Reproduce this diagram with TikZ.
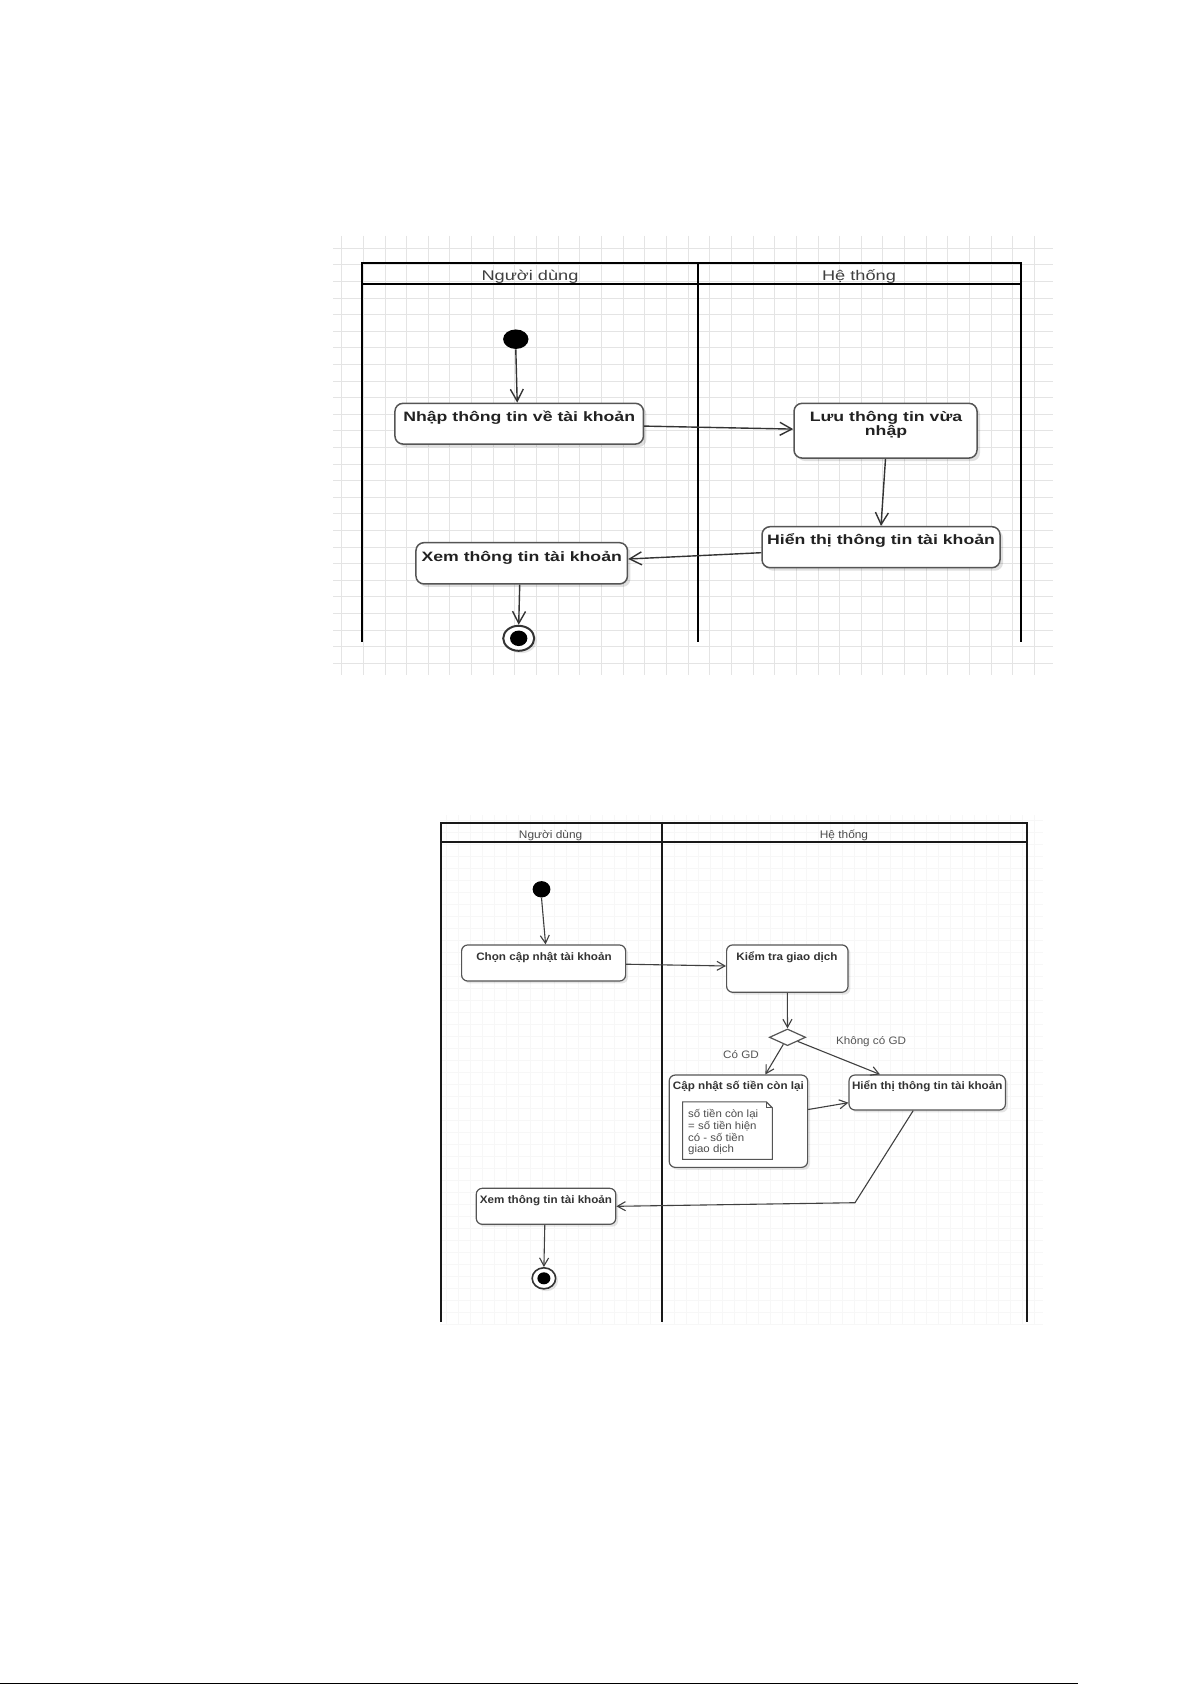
\documentclass[tikz,border=0pt]{standalone}
\usepackage{fontspec}
\setmainfont{Liberation Sans}
\newfontfamily\fA[FakeStretch=1.3]{Liberation Sans}
\newfontfamily\fB[FakeStretch=1.08]{Liberation Sans}
\usetikzlibrary{shapes.geometric,arrows.meta,shadows,calc}
\newdimen\px \px=0.5pt
\definecolor{gridA}{HTML}{E4E4E4}
\definecolor{gridB}{HTML}{F7F7F7}
\definecolor{boxline}{HTML}{555555}
\definecolor{txtA}{HTML}{222222}
\definecolor{txtB}{HTML}{333333}
\definecolor{lbl}{HTML}{555555}
\tikzset{
  actA/.style={draw=boxline, line width=0.75pt, rounded corners=4pt, fill=white,
    drop shadow={fill=black, opacity=0.12, shadow xshift=1.5pt, shadow yshift=-1.5pt}, inner sep=0pt},
  actB/.style={draw=boxline, line width=0.6pt, rounded corners=3pt, fill=white,
    drop shadow={fill=black, opacity=0.10, shadow xshift=1.2pt, shadow yshift=-1.2pt}, inner sep=0pt},
  labA/.style={font=\fA\bfseries\fontsize{6.8}{7}\selectfont, text=txtA, inner sep=0pt, anchor=base},
  labB/.style={font=\fB\bfseries\fontsize{5.4}{6}\selectfont, text=txtB, inner sep=0pt, anchor=base},
  headA/.style={font=\fA\fontsize{7}{8}\selectfont, text=black!75, inner sep=0pt, anchor=base},
  headB/.style={font=\fB\fontsize{5.5}{6}\selectfont, text=black!70, inner sep=0pt, anchor=base},
  guard/.style={font=\fB\fontsize{5.4}{6}\selectfont, text=lbl, inner sep=0pt, anchor=base},
  notetxt/.style={font=\fB\fontsize{5.3}{6}\selectfont, text=black!70, inner sep=0pt, anchor=base west},
  flowA/.style={draw=black!80, line width=0.7pt, -{Straight Barb[length=6pt,width=6.5pt]}},
  flowB/.style={draw=black!75, line width=0.55pt, -{Straight Barb[length=4pt,width=4.5pt]}},
  laneA/.style={draw=black, line width=1pt},
  laneB/.style={draw=black!90, line width=0.85pt},
  startdot/.style={ellipse, fill=black, inner sep=0pt},
  endring/.style={ellipse, draw=black!80, line width=1pt, fill=white, inner sep=0pt,
    drop shadow={fill=black, opacity=0.10, shadow xshift=1.2pt, shadow yshift=-1.2pt}},
}
\begin{document}
\begin{tikzpicture}[x=0.5pt, y=-0.5pt]
\useasboundingbox (0,0) rectangle (1192,1685);
\fill[white] (0,0) rectangle (1192,1685);

% ===== Diagram 1 grid =====
\foreach \i in {0,...,32} \draw[gridA, line width=0.5pt] ({341.7+21.65*\i},236) -- ({341.7+21.65*\i},675);
\foreach \j in {0,...,25} \draw[gridA, line width=0.5pt] (333,{248.3+16.6*\j}) -- (1053,{248.3+16.6*\j});

% ===== Diagram 1 swimlanes =====
\draw[laneA] (362,641.7) -- (362,263.3) -- (1021,263.3) -- (1021,641.7);
\draw[laneA] (362,284.3) -- (1021,284.3);
\draw[laneA] (697.5,263.3) -- (697.5,641.7);
\node[headA] (h1a) at (530,280) {Người dùng};
\node[headA] (h1b) at (859,280) {Hệ thống};

% ===== Diagram 1 nodes =====
\node[startdot, minimum width=25.4\px, minimum height=19.5\px] (s1) at (515.8,339.2) {};
\node[actA, minimum width=248.5\px, minimum height=40.7\px] (b1) at (519.2,423.7) {};
\node[labA] (b1t) at (519.2,421) {Nhập thông tin về tài khoản};
\node[actA, minimum width=183\px, minimum height=54.7\px] (b2) at (885.5,430.7) {};
\node[labA] (b2t) at (886,421) {Lưu thông tin vừa};
\node[labA] (b2u) at (886,435) {nhập};
\node[actA, minimum width=238\px, minimum height=41\px] (b3) at (881,547.2) {};
\node[labA] (b3t) at (881,544) {Hiển thị thông tin tài khoản};
\node[actA, minimum width=211.5\px, minimum height=41.3\px] (b4) at (521.7,563.3) {};
\node[labA] (b4t) at (521.7,561) {Xem thông tin tài khoản};
\node[endring, minimum width=31\px, minimum height=25\px] (e1) at (518.7,638.3) {};
\node[startdot, minimum width=17.3\px, minimum height=15.5\px] (e1i) at (e1) {};

\draw[flowA] (s1.south) -- ([xshift=-1pt]b1.north);
\draw[flowA] ([yshift=-1.2pt]b1.east) -- ([yshift=0.8pt]b2.west);
\draw[flowA] (b2.south) -- (b3.north);
\draw[flowA] ([yshift=-2.75pt]b3.west) -- ([yshift=2.15pt]b4.east);
\draw[flowA] ([xshift=-1pt]b4.south) -- (e1.north);

% ===== Diagram 2 grid =====
\foreach \i in {0,...,49} \draw[gridB, line width=0.4pt] ({446+12*\i},815) -- ({446+12*\i},1324);
\foreach \j in {0,...,42} \draw[gridB, line width=0.4pt] (440,{820+12*\j}) -- (1043,{820+12*\j});

% ===== Diagram 2 swimlanes =====
\draw[laneB] (440.7,1322) -- (440.7,823.3) -- (1027,823.3) -- (1027,1322);
\draw[laneB] (440.7,842.3) -- (1027,842.3);
\draw[laneB] (662,823.3) -- (662,1322);
\node[headB] (h2a) at (550.6,838) {Người dùng};
\node[headB] (h2b) at (844,838) {Hệ thống};

% ===== Diagram 2 nodes =====
\node[startdot, minimum width=17.8\px, minimum height=16.4\px] (s2) at (541.5,889.3) {};
\node[actB, minimum width=164\px, minimum height=36\px] (A) at (543.6,963) {};
\node[labB] (At) at (544,960.5) {Chọn cập nhật tài khoản};
\node[actB, minimum width=121.4\px, minimum height=47.3\px] (B) at (787.3,968.6) {};
\node[labB] (Bt) at (787,960.5) {Kiểm tra giao dịch};
\node[diamond, draw=boxline, line width=0.6pt, fill=white, inner sep=0pt, aspect=2.17,
      minimum width=36.3\px, minimum height=16.7\px] (d) at (787.5,1037.3) {};
\node[actB, minimum width=138.4\px, minimum height=92.3\px] (C) at (738.4,1121.2) {};
\node[labB] (Ct) at (738.4,1089) {Cập nhật số tiền còn lại};
\node[actB, minimum width=156.4\px, minimum height=35\px] (D) at (927.2,1092.5) {};
\node[labB] (Dt) at (927.2,1089) {Hiển thị thông tin tài khoản};
\node[actB, minimum width=139.5\px, minimum height=36\px] (E) at (546,1206.3) {};
\node[labB] (Et) at (546,1203) {Xem thông tin tài khoản};
\node[endring, line width=0.8pt, minimum width=23.5\px, minimum height=21\px] (e2) at (543.9,1278.3) {};
\node[startdot, minimum width=13\px, minimum height=12\px] (e2i) at (e2) {};

% note inside C
\node[inner sep=0pt, minimum width=89\px, minimum height=56.7\px] (note) at (727.5,1130.65) {};
\draw[boxline, line width=0.55pt, fill=white]
  (note.north west) -- ([xshift=-3pt]note.north east) -- ([yshift=-3pt]note.north east)
  -- (note.south east) -- (note.south west) -- cycle;
\draw[boxline, line width=0.5pt]
  ([xshift=-3pt]note.north east) -- ([xshift=-3pt,yshift=-3pt]note.north east) -- ([yshift=-3pt]note.north east);
\node[notetxt] (n1) at (687.8,1117.8) {số tiền còn lại};
\node[notetxt] (n2) at (687.8,1129.5) {= số tiền hiện};
\node[notetxt] (n3) at (687.8,1141.1) {có - số tiền};
\node[notetxt] (n4) at (687.8,1152.8) {giao dịch};

% guards
\node[guard] (g1) at (741,1058) {Có GD};
\node[guard] (g2) at (871,1044.5) {Không có GD};

% connectors
\draw[flowB] (s2.south) -- ([xshift=1pt]A.north);
\draw[flowB] ([yshift=-0.6pt]A.east) -- ([yshift=1.3pt]B.west);
\draw[flowB] (B.south) -- (d.north);
\draw[flowB] (d) -- ([xshift=13.5pt]C.north);
\draw[flowB] (d) -- ([xshift=-23.6pt]D.north);
\draw[flowB] ([yshift=5.85pt]C.east) -- ([yshift=-5.1pt]D.west);
\coordinate (k) at (855,1202.7);
\draw[flowB] ([xshift=-7pt]D.south) -- (k) -- (E.east);
\draw[flowB] ([xshift=-0.6pt]E.south) -- (e2.north);

% page rule
\draw[black, line width=0.6pt] (0,1683.5) -- (1078,1683.5);
\end{tikzpicture}
\end{document}
